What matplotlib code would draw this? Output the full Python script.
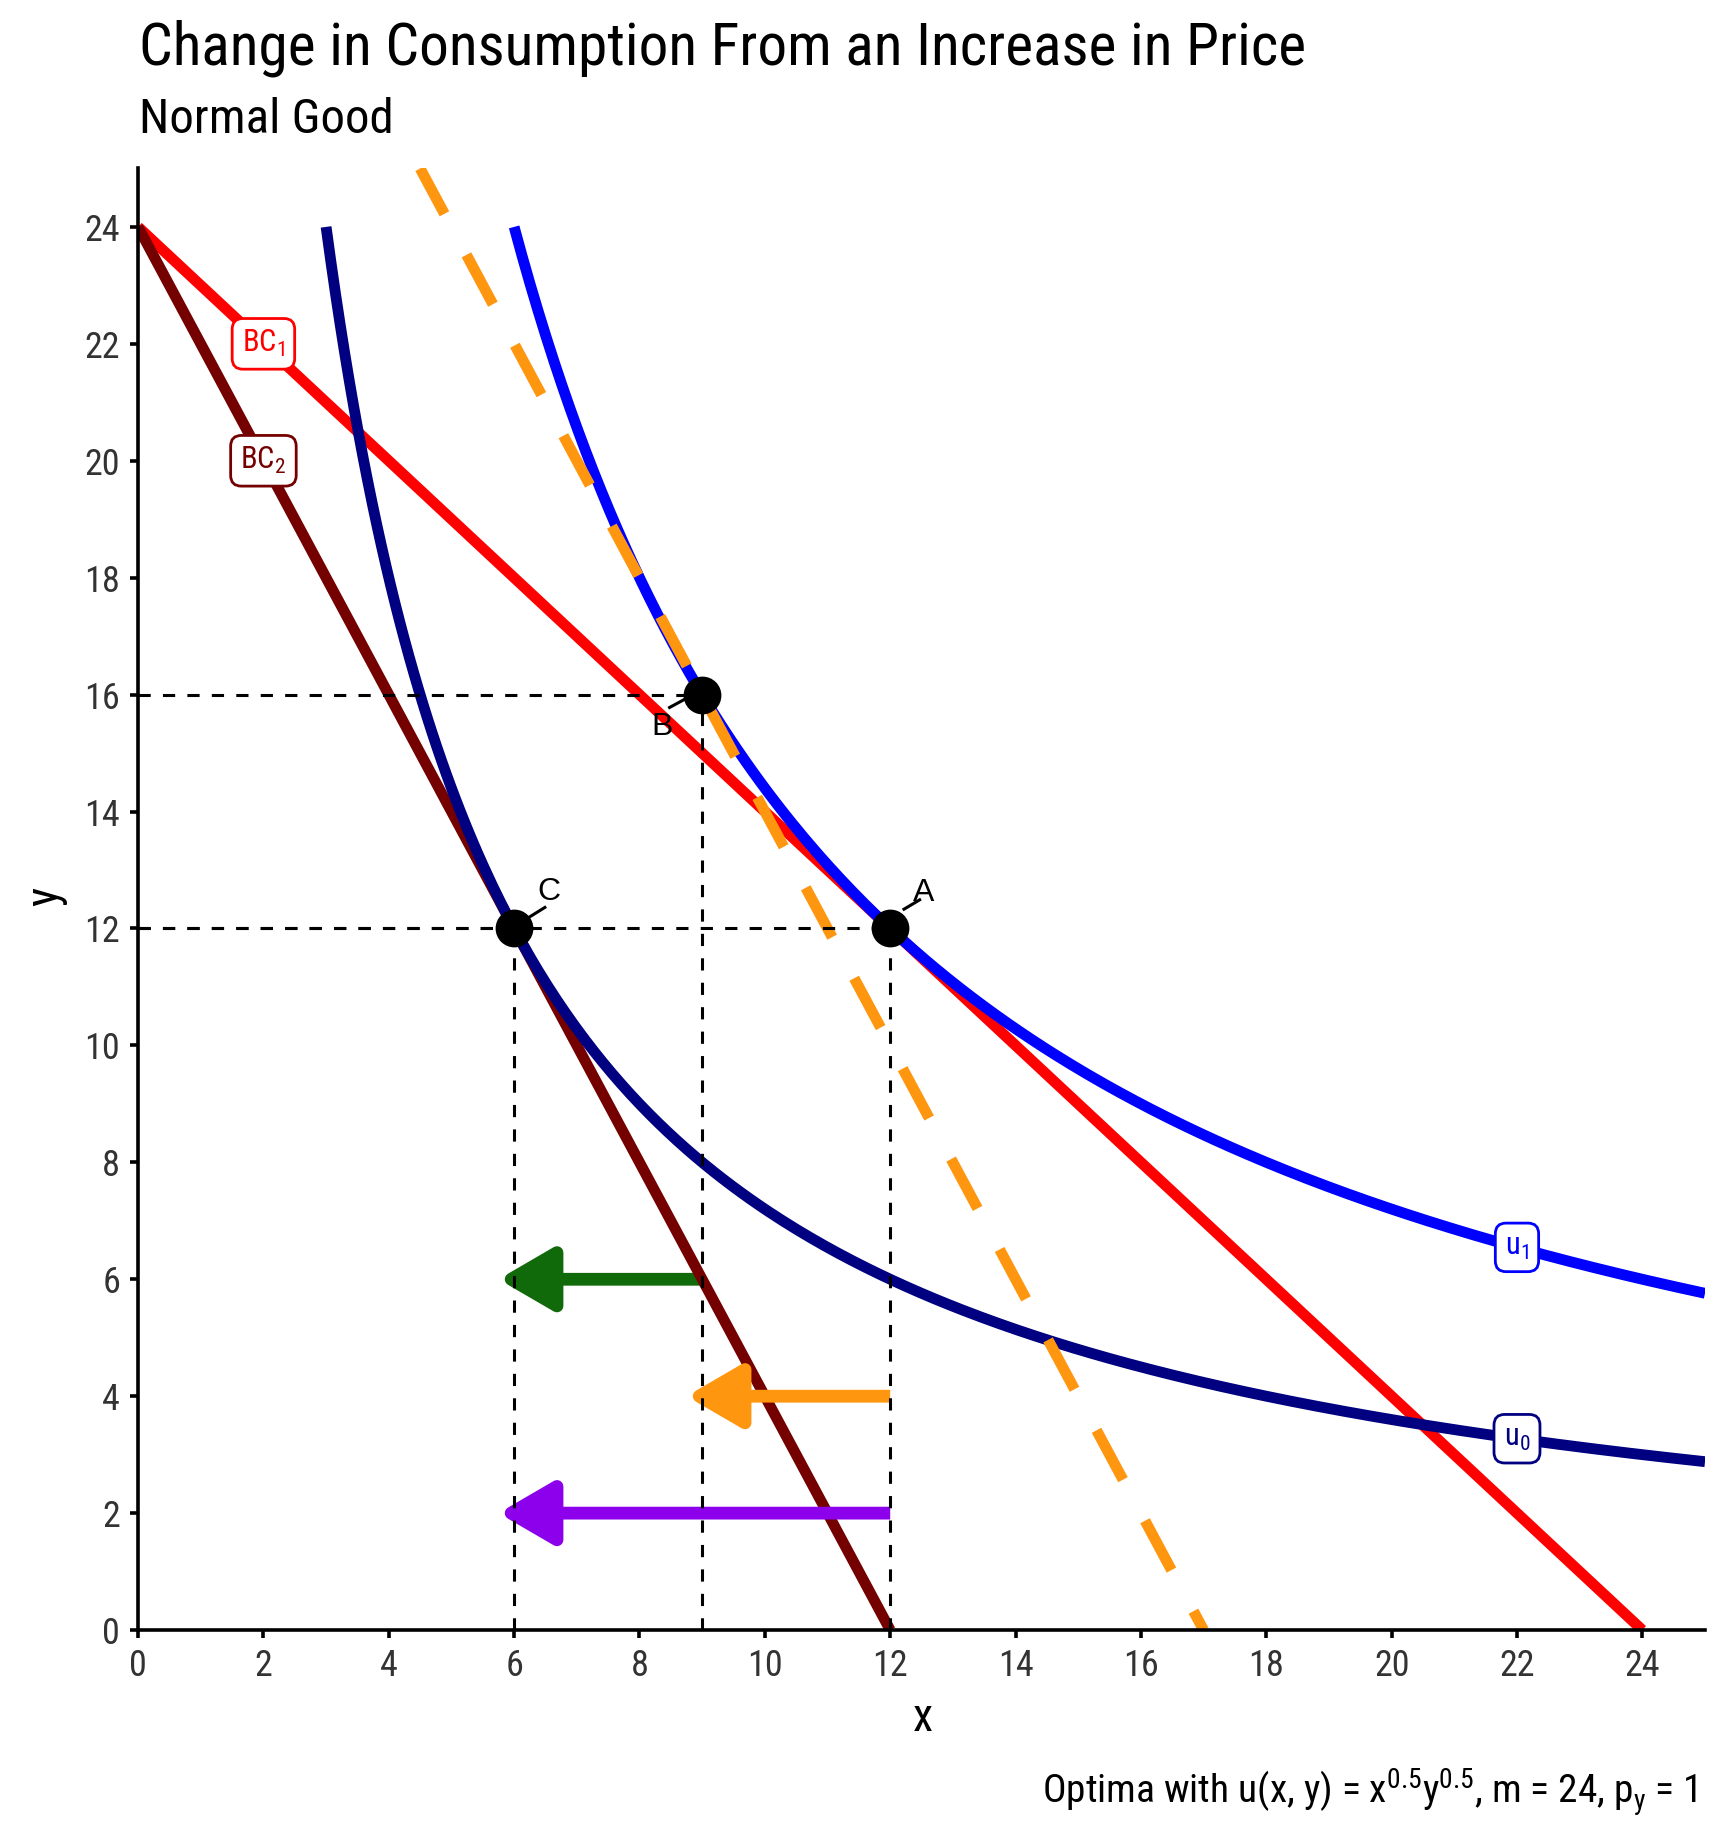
import matplotlib
matplotlib.use("Agg")
import matplotlib.pyplot as plt
from matplotlib.patches import FancyArrowPatch, ArrowStyle
import numpy as np

# ---- chart data ----
income = 24
price_y = 1
price_x_old = 1
price_x_new = 2
comp_income = 34          # income on the dashed (compensated) line
util_levels = {"u0": 72 ** 0.5, "u1": 144 ** 0.5}
util_start_x = {"u0": 3, "u1": 6}

point_names = ["A", "B", "C"]
point_x = [12, 9, 6]
point_y = [12, 16, 12]

# arrows: (start x, end x, y)
arrow_start = [9, 12, 12]
arrow_end = [6, 9, 6]
arrow_y = [6, 4, 2]
arrow_cols = ["#116a0a", "#ff960f", "#8c00ec"]
arrow_z = [1.9, 3, 3]

x_ticks = list(range(0, 25, 2))
y_ticks = list(range(0, 25, 2))

plt.rcParams["font.family"] = ["Roboto Condensed", "Liberation Sans Narrow", "DejaVu Sans"]
plt.rcParams["mathtext.default"] = "regular"

LW = 3.9

fig = plt.figure(figsize=(8.64, 9.225), dpi=200)
ax = fig.add_axes([0.0799, 0.1165, 0.9068, 0.7922])
ax.set_xlim(0, 25)
ax.set_ylim(0, 25)

# budget lines
ax.plot([0, income / price_x_old], [income / price_y, 0], color="#ff0000", lw=LW,
        solid_capstyle="butt", zorder=2)
ax.plot([0, income / price_x_new], [income / price_y, 0], color="#750000", lw=LW,
        solid_capstyle="butt", zorder=2)

# indifference curves
curve_cols = {"u0": "#000080", "u1": "#0000ff"}
for name in ["u0", "u1"]:
    xs = np.linspace(util_start_x[name], 25, 300)
    ys = util_levels[name] ** 2 / xs
    ax.plot(xs, ys, color=curve_cols[name], lw=LW, solid_capstyle="butt", zorder=2.1)

# compensated budget line
top_x = (comp_income - 25) / price_x_new
ax.plot([top_x, comp_income / price_x_new], [25, 0], color="#ff960f", lw=LW,
        linestyle=(0.42, (5.17, 4.3)), dash_capstyle="butt", zorder=2.2)

# arrows (tip pulled back by mpl, so nudge the end a little)
for x0, x1, yy, col, z in zip(arrow_start, arrow_end, arrow_y, arrow_cols, arrow_z):
    arr = FancyArrowPatch((x0, yy), (x1 - 0.25, yy),
                          arrowstyle=ArrowStyle("-|>", head_length=16.5, head_width=9.6),
                          mutation_scale=1, color=col, lw=4.6, shrinkA=0, shrinkB=0,
                          joinstyle="round", capstyle="butt", zorder=z)
    ax.add_patch(arr)

# guide lines
for px, py in zip(point_x, point_y):
    ax.plot([0, px], [py, py], color="black", lw=1.1, dashes=(4, 4), zorder=4)
    ax.plot([px, px], [0, py], color="black", lw=1.1, dashes=(4, 4), zorder=4)

ax.plot(point_x, point_y, "o", color="black", ms=12.6, zorder=5, clip_on=False)

# point labels with short leader segments
lab_pos = {"A": (12.54, 12.61), "B": (8.36, 15.45), "C": (6.56, 12.63)}
seg = {"A": ((12.22, 12.33), (12.47, 12.49)),
       "B": ((8.48, 15.78), (8.72, 15.92)),
       "C": ((6.25, 12.2), (6.49, 12.36))}
for name in point_names:
    (sx0, sy0), (sx1, sy1) = seg[name]
    ax.plot([sx0, sx1], [sy0, sy1], color="black", lw=1.1, zorder=5)
    ax.text(*lab_pos[name], name, family=["Liberation Sans", "DejaVu Sans"],
            fontsize=11.5, ha="center", va="center", zorder=6)

# boxed curve labels
def box_label(x, y, txt, col):
    ax.text(x, y, txt, color=col, fontsize=11, ha="center", va="center", zorder=6,
            bbox=dict(boxstyle="round,pad=0.32,rounding_size=0.35", fc="white",
                      ec=col, lw=1.0))

box_label(2, 22, "BC$_1$", "#ff0000")
box_label(2, 20, "BC$_2$", "#750000")
box_label(22, util_levels["u1"] ** 2 / 22, "u$_1$", "#0000ff")
box_label(22, util_levels["u0"] ** 2 / 22, "u$_0$", "#000080")

# axes styling
for s in ["top", "right"]:
    ax.spines[s].set_visible(False)
for s in ["left", "bottom"]:
    ax.spines[s].set_linewidth(1.3)
    ax.spines[s].set_color("black")
ax.set_xticks(x_ticks)
ax.set_yticks(y_ticks)
ax.tick_params(length=3.0, width=1.3, color="black", labelcolor="#333333",
               labelsize=13, pad=3.5)

fig.text(0.534, 0.069, "x", fontsize=16.5, ha="center", va="center")
fig.text(0.026, 0.514, "y", fontsize=16.5, ha="center", va="center", rotation=90)

fig.text(0.0805, 0.9648, "Change in Consumption From an Increase in Price",
         fontsize=21.4, ha="left", va="baseline")
fig.text(0.0805, 0.9279, "Normal Good", fontsize=17.6, ha="left", va="baseline")
fig.text(0.982, 0.0228,
         "Optima with u(x, y) = x$^{0.5}$y$^{0.5}$, m = 24, p$_{y}$ = 1",
         fontsize=14.2, ha="right", va="baseline")

fig.savefig("out.png", dpi=200)
